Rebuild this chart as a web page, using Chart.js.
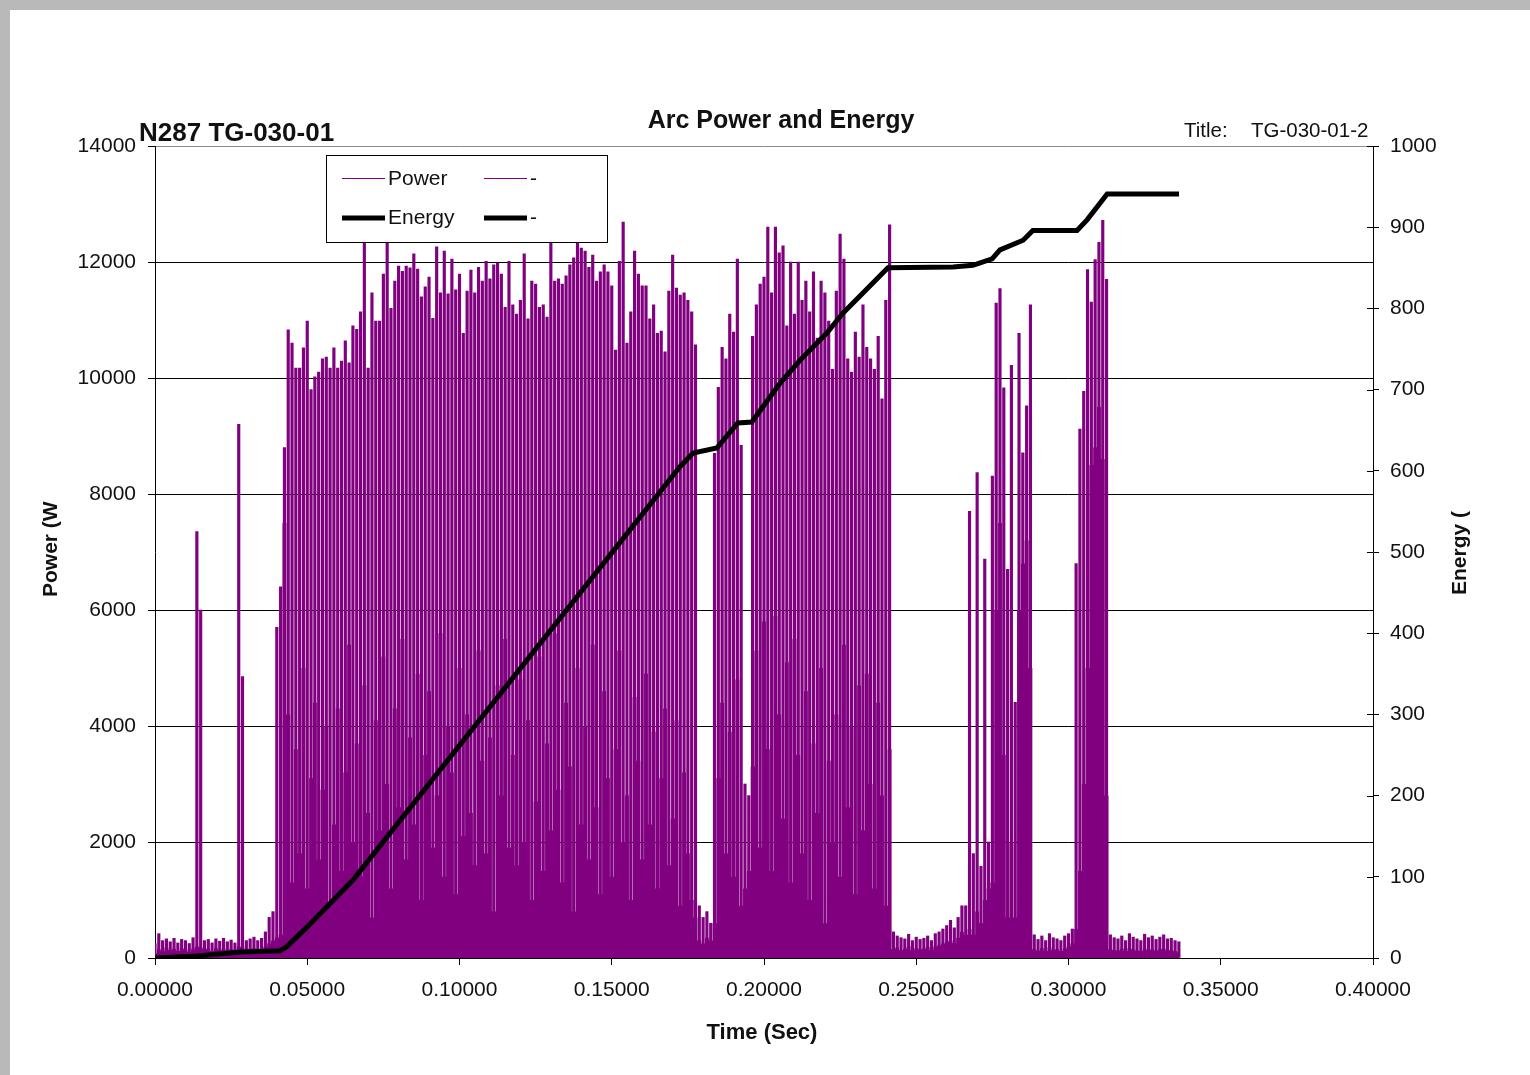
<!DOCTYPE html>
<html>
<head>
<meta charset="utf-8">
<title>Arc Power and Energy</title>
<script src="https://cdn.jsdelivr.net/npm/chart.js@4.4.1/dist/chart.umd.min.js"></script>
<style>
  html, body { margin: 0; padding: 0; background: #fff; }
  #arcChart { display: block; }
</style>
</head>
<body>
<canvas id="arcChart" width="1530" height="1075"></canvas>
<script>
// time between power samples (s)
const sampleStep = 0.00125;

// power record, split in stretches: peak and low of each sample (W)
const quiet1Peak = [250, 420, 300, 330, 280, 340, 260, 320, 300, 250, 350, 7350, 6000, 300, 320, 260, 330, 290, 340, 280,
  310, 260, 9200, 4850, 300, 330, 360, 300, 340, 450, 700, 800, 5700, 6400];
const quiet1Low = [80, 150, 120, 180, 140, 160, 120, 170, 150, 110, 160, 200, 180, 150, 160, 120, 170, 140, 160, 130,
  150, 120, 200, 180, 140, 160, 170, 150, 160, 200, 250, 300, 350, 400];

const burst1Peak = [8800, 10830, 10600, 10170, 10170, 10520, 10980, 9800, 10020, 10100,
  10330, 10360, 10170, 10520, 10170, 10290, 10640, 10260, 10900, 10840,
  11140, 12600, 10170, 11470, 10980, 10980, 11790, 12600, 11200, 11670,
  11930, 11840, 11930, 11900, 12140, 11880, 11400, 11570, 11740, 11030,
  12260, 11470, 12190, 11450, 12050, 11520, 11790, 10770, 11500, 11860,
  11470, 11910, 11670, 12010, 11710, 11950, 11980, 11790, 11220, 12010];
const burst1Low = [7500, 4200, 1300, 3600, 1800, 5000, 1200, 3100, 4400, 1700,
  2900, 4000, 900, 2300, 4300, 1500, 3200, 5400, 2000, 3700,
  1400, 4700, 2500, 700, 4100, 2200, 5200, 3000, 1200, 4300,
  2600, 5500, 1700, 3800, 2300, 4900, 1000, 3500, 4600, 1900,
  2800, 5600, 1400, 4000, 3200, 1100, 5000, 2100, 4200, 2500,
  1600, 5300, 3400, 1800, 3800, 800, 4700, 2800, 5500, 1900];

const burst2Peak = [11260, 11100, 11340, 12140, 11020, 11670, 11620, 11220, 11260, 11050,
  12330, 11670, 11710, 11620, 11760, 11950, 12070, 12500, 12240, 12190,
  11910, 12120, 11670, 11830, 11950, 11830, 11590, 10480, 12010, 12690,
  10600, 11140, 12190, 11790, 11590, 11590, 11020, 11260, 10770, 10810,
  10450, 11500, 12120, 11550, 11430, 11470, 11340, 11140, 10570, 900,
  700, 800, 600];
const burst2Low = [3500, 1600, 4800, 2000, 4100, 1000, 2700, 5200, 1500, 3700,
  2200, 5600, 2900, 1300, 4400, 3300, 800, 5000, 2300, 4000,
  1700, 5400, 2600, 1100, 4600, 3100, 1400, 3600, 5300, 2000,
  2800, 1000, 4500, 3400, 1700, 4900, 2300, 3900, 1200, 3100,
  4300, 1600, 2400, 4100, 900, 3200, 1800, 1000, 700, 300,
  250, 350, 300];

const burst3Peak = [8700, 9840, 10530, 10330, 11100, 10790, 12050, 8840, 3000, 2800,
  10720, 11260, 11620, 11740, 12600, 11470, 12600, 12160, 12280, 10900,
  12000, 11100, 12000, 11340, 11670, 11140, 11830, 10690, 11670, 11470,
  10980, 10150, 11500, 12480, 12050, 10330, 10100, 10790, 10360, 11260,
  10530, 10330, 10150, 10720, 9640, 11340, 12640];
const burst3Low = [600, 3100, 4400, 1800, 3900, 1400, 4800, 900, 1200, 1500,
  3300, 5300, 1900, 5800, 3600, 1500, 5900, 4200, 2400, 5100,
  1300, 5500, 3500, 1800, 4600, 1000, 3700, 2500, 5000, 600,
  3400, 2000, 4200, 1400, 5400, 2600, 4000, 1100, 4700, 2200,
  4900, 3000, 1200, 4400, 2800, 900, 3600];

const quiet2Peak = [450, 380, 350, 330, 410, 300, 360, 320, 340, 380, 300, 420, 450, 500, 560, 650, 520, 700, 900];
const quiet2Low = [150, 180, 140, 160, 200, 130, 170, 150, 160, 190, 140, 200, 220, 250, 280, 300, 260, 350, 450];

const cluster1Peak = [900, 7700, 1800, 8370, 1580, 6880, 2000, 8310, 11290, 11540, 9830, 6700, 10220, 4410, 10770, 8710, 9520, 11260];
const cluster1Low = [400, 500, 400, 800, 600, 1000, 1200, 1300, 6000, 7500, 3500, 700, 2000, 700, 6000, 6800, 7200, 5000];

const quiet3Peak = [400, 320, 380, 300, 420, 350, 330, 300, 380, 420, 500];
const quiet3Low = [150, 130, 170, 120, 180, 140, 150, 120, 160, 200, 250];

const cluster2Peak = [6800, 9120, 9770, 11870, 11310, 12040, 12340, 12720, 11700];
const cluster2Low = [500, 1500, 3000, 5000, 8500, 8800, 9500, 8600, 2800];

const quiet4Peak = [400, 350, 330, 380, 300, 420, 360, 330, 300, 410, 350, 380, 320, 360, 400, 330, 340, 300, 280];
const quiet4Low = [150, 140, 130, 160, 120, 170, 150, 130, 120, 160, 140, 150, 130, 150, 160, 130, 140, 120, 100];

// cumulative arc energy (right axis)
const energyTime = [0, 0.0138, 0.0280, 0.0411, 0.0433, 0.0499, 0.0650, 0.1724, 0.1767, 0.1845,
  0.1914, 0.1960, 0.2053, 0.2118, 0.2207, 0.2259, 0.2325, 0.2407, 0.2621, 0.2686,
  0.2749, 0.2775, 0.2851, 0.2883, 0.3028, 0.3061, 0.3127, 0.3363];
const energyValue = [0, 2.5, 7.5, 9, 14, 38, 96, 605, 622, 628,
  659, 660, 708, 736, 770, 794, 819, 850, 851, 853,
  861, 872, 884, 896, 896, 909, 941, 941];

// tick labels
const timeTicks = [0, 0.05, 0.10, 0.15, 0.20, 0.25, 0.30, 0.35, 0.40];
const powerTicks = [0, 2000, 4000, 6000, 8000, 10000, 12000, 14000];
const energyTicks = [0, 100, 200, 300, 400, 500, 600, 700, 800, 900, 1000];

const powerPeak = [].concat(quiet1Peak, burst1Peak, burst2Peak, burst3Peak, quiet2Peak,
  cluster1Peak, quiet3Peak, cluster2Peak, quiet4Peak);
const powerLow = [].concat(quiet1Low, burst1Low, burst2Low, burst3Low, quiet2Low,
  cluster1Low, quiet3Low, cluster2Low, quiet4Low);

const peakPoints = powerPeak.map((v, k) => ({ x: k * sampleStep, y: v }));
const lowPoints = powerLow.map((v, k) => ({ x: k * sampleStep, y: v }));
const energyPoints = energyTime.map((t, i) => ({ x: t, y: energyValue[i] }));

const PURPLE = '#800080';
const FONT = "'Liberation Sans', Arial, sans-serif";

Chart.defaults.font.family = FONT;
Chart.defaults.color = '#111';

// grey frame round the sheet
const framePlugin = {
  id: 'frame',
  beforeDraw(chart) {
    const c = chart.ctx;
    c.save();
    c.fillStyle = '#b9b9b9';
    c.fillRect(0, 0, chart.width, chart.height);
    c.fillStyle = '#ffffff';
    c.fillRect(10, 10, chart.width - 10, chart.height - 10);
    c.restore();
  }
};

// titles, axis titles, inner ticks on the right axis and the legend box
const textPlugin = {
  id: 'texts',
  afterDraw(chart) {
    const c = chart.ctx;
    const area = chart.chartArea;
    c.save();
    c.fillStyle = '#111';
    c.textBaseline = 'alphabetic';

    c.font = 'bold 25px ' + FONT;
    c.textAlign = 'center';
    c.fillText('Arc Power and Energy', 781, 128);

    c.font = 'bold 26px ' + FONT;
    c.textAlign = 'left';
    c.fillText('N287 TG-030-01', 139, 141);

    c.font = '20.5px ' + FONT;
    c.fillText('Title:', 1184, 137);
    c.fillText('TG-030-01-2', 1251, 137);

    c.font = 'bold 22px ' + FONT;
    c.textAlign = 'center';
    c.fillText('Time (Sec)', 762, 1039);

    c.font = 'bold 21px ' + FONT;
    c.textAlign = 'left';
    c.save();
    c.translate(57, 597);
    c.rotate(-Math.PI / 2);
    c.fillText('Power (W', 0, 0);
    c.restore();
    c.save();
    c.translate(1466, 595);
    c.rotate(-Math.PI / 2);
    c.fillText('Energy (', 0, 0);
    c.restore();

    // right axis ticks cross the axis line
    const y1 = chart.scales.y1;
    c.strokeStyle = '#000';
    c.lineWidth = 1;
    y1.ticks.forEach(t => {
      const py = Math.round(y1.getPixelForValue(t.value)) + 0.5;
      c.beginPath();
      c.moveTo(area.right - 6, py);
      c.lineTo(area.right, py);
      c.stroke();
    });

    // legend
    c.fillStyle = '#ffffff';
    c.fillRect(327, 155, 281, 87);
    c.strokeStyle = '#000';
    c.lineWidth = 1;
    c.strokeRect(326.5, 155.5, 281, 87);

    const cols = [342, 484];
    const rows = [178.5, 218];
    const items = chart.data.datasets.filter(d => !d.noLegend);
    c.font = '21px ' + FONT;
    c.textAlign = 'left';
    items.forEach((d, i) => {
      const lx = cols[i % 2];
      const ly = rows[Math.floor(i / 2)];
      c.strokeStyle = d.borderColor || d.backgroundColor;
      c.lineWidth = d.legendWidth;
      c.beginPath();
      c.moveTo(lx, ly);
      c.lineTo(lx + 43, ly);
      c.stroke();
      c.fillStyle = '#111';
      c.fillText(d.label, lx + 46, Math.round(ly) + 6);
    });
    c.restore();
  }
};

const ctx = document.getElementById('arcChart');
new Chart(ctx, {
  type: 'line',
  data: {
    datasets: [
      {
        type: 'bar',
        label: 'Power',
        data: peakPoints,
        backgroundColor: PURPLE,
        borderColor: PURPLE,
        borderWidth: 0,
        barThickness: 2.5,
        legendWidth: 1,
        yAxisID: 'y',
        order: 2
      },
      {
        type: 'line',
        label: 'Power low',
        noLegend: true,
        data: lowPoints,
        borderWidth: 0,
        borderColor: PURPLE,
        backgroundColor: PURPLE,
        fill: 'origin',
        stepped: 'middle',
        pointRadius: 0,
        yAxisID: 'y',
        order: 3
      },
      {
        type: 'line',
        label: '-',
        data: [],
        borderColor: PURPLE,
        borderWidth: 1,
        legendWidth: 1,
        pointRadius: 0,
        yAxisID: 'y',
        order: 4
      },
      {
        type: 'line',
        label: 'Energy',
        data: energyPoints,
        borderColor: '#000',
        borderWidth: 5,
        legendWidth: 5,
        pointRadius: 0,
        tension: 0,
        fill: false,
        yAxisID: 'y1',
        order: 0
      },
      {
        type: 'line',
        label: '-',
        data: [],
        borderColor: '#000',
        borderWidth: 5,
        legendWidth: 5,
        pointRadius: 0,
        yAxisID: 'y1',
        order: 1
      }
    ]
  },
  options: {
    responsive: false,
    animation: false,
    devicePixelRatio: 1,
    layout: { padding: { top: 146, left: 0, right: 0, bottom: 0 } },
    plugins: {
      legend: { display: false },
      title: { display: false },
      tooltip: { enabled: false }
    },
    scales: {
      x: {
        type: 'linear',
        min: 0,
        max: 0.4,
        offset: false,
        afterBuildTicks: s => { s.ticks = timeTicks.map(v => ({ value: v })); },
        afterFit: s => { s.height = 117; },
        ticks: {
          callback: v => Number(v).toFixed(5),
          font: { size: 21 },
          padding: 13,
          maxRotation: 0,
          autoSkip: false
        },
        grid: { drawOnChartArea: false, offset: false, tickLength: 7, tickColor: '#000' },
        border: { color: '#000', width: 1 }
      },
      y: {
        type: 'linear',
        position: 'left',
        min: 0,
        max: 14000,
        afterBuildTicks: s => { s.ticks = powerTicks.map(v => ({ value: v })); },
        afterFit: s => { s.width = 155; },
        ticks: { callback: v => String(v), font: { size: 21 }, padding: 12 },
        grid: {
          color: c => (c.tick && c.tick.value === 14000 ? '#8c8c8c' : '#000'),
          tickColor: '#000',
          tickLength: 7,
          lineWidth: 1
        },
        border: { color: '#000', width: 1 }
      },
      y1: {
        type: 'linear',
        position: 'right',
        min: 0,
        max: 1000,
        afterBuildTicks: s => { s.ticks = energyTicks.map(v => ({ value: v })); },
        afterFit: s => { s.width = 157; },
        ticks: { callback: v => String(v), font: { size: 21 }, padding: 11 },
        grid: { drawOnChartArea: false, tickLength: 6, tickColor: '#000' },
        border: { color: '#000', width: 1 }
      }
    }
  },
  plugins: [framePlugin, textPlugin]
});
</script>
</body>
</html>
